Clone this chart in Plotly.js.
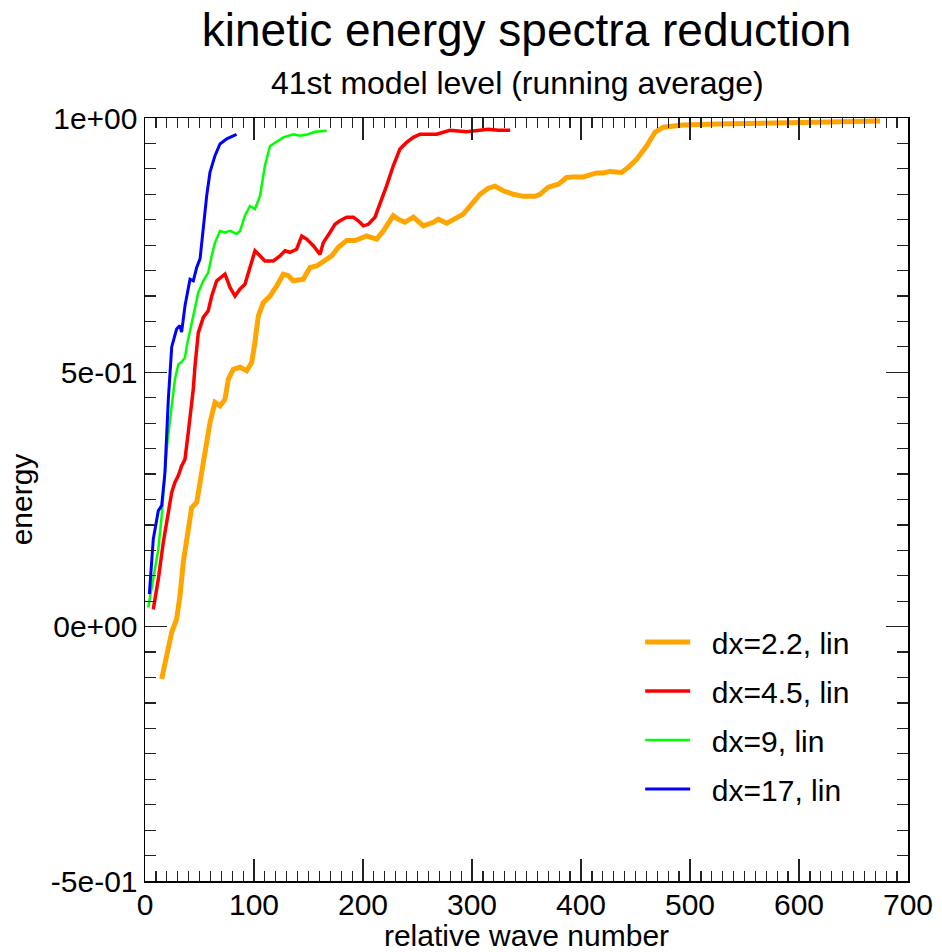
<!DOCTYPE html>
<html>
<head>
<meta charset="utf-8">
<script src="https://cdn.plot.ly/plotly-3.0.1.min.js"></script>
<style>
  html, body { margin: 0; padding: 0; background: #fff; }
  #chart { width: 942px; height: 952px; }
</style>
</head>
<body>
<div id="chart"></div>
<script>
// Kinetic energy spectra reduction, 41st model level, running average
const seriesNames = ["dx=2.2, lin", "dx=4.5, lin", "dx=9, lin", "dx=17, lin"];
const seriesColors = ["#FFA500", "#FF0000", "#00FF00", "#0000FF"];
const seriesWidths = [5, 3.5, 2.5, 3];

const xDx22 = [15.3, 19.9, 24.5, 29, 32.1, 35.1, 39.7, 42.8, 47.4, 50.5, 55, 59.6, 64.2, 68.8, 73.4, 76.5, 81, 87.2, 93.3, 97.9, 100.9, 104, 108.5, 114.7, 120.8, 126.9, 131.5, 136, 145.2, 151.4, 157.5, 163.6, 171.3, 177.4, 185, 192.7, 197.2, 203.4, 208, 212.6, 218.7, 223.2, 227.8, 232.4, 238.5, 246.2, 255.4, 264.5, 269.1, 276.8, 284.4, 292, 298.2, 307.3, 315, 321.1, 328.7, 337.9, 347.1, 357.8, 362.4, 370, 379.2, 386.9, 393, 402.1, 414.4, 420.5, 426.6, 437.3, 443.4, 451.1, 460.2, 467.9, 475.5, 493.9, 524.5, 570.3, 616.2, 674.3];
const yDx22 = [-0.103, -0.057, -0.011, 0.015, 0.061, 0.126, 0.198, 0.234, 0.244, 0.284, 0.336, 0.401, 0.441, 0.434, 0.447, 0.487, 0.506, 0.51, 0.503, 0.519, 0.56, 0.611, 0.637, 0.65, 0.67, 0.693, 0.69, 0.68, 0.683, 0.706, 0.709, 0.719, 0.729, 0.746, 0.759, 0.759, 0.762, 0.768, 0.765, 0.762, 0.778, 0.791, 0.808, 0.801, 0.795, 0.805, 0.788, 0.795, 0.801, 0.793, 0.801, 0.811, 0.827, 0.85, 0.862, 0.866, 0.857, 0.85, 0.846, 0.846, 0.85, 0.864, 0.87, 0.883, 0.884, 0.884, 0.892, 0.892, 0.895, 0.893, 0.903, 0.919, 0.945, 0.972, 0.982, 0.986, 0.988, 0.99, 0.993, 0.994];

const xDx45 = [7.6, 12.2, 16.8, 21.4, 24.5, 27.5, 30.6, 33.6, 36.7, 39.7, 44.3, 45.9, 48.9, 53.5, 58, 61.2, 65.8, 73.4, 78, 82.6, 87.2, 91.7, 96.3, 100.9, 105.5, 110, 117.7, 123.9, 128.4, 133, 139.1, 143.8, 148.3, 154.4, 160.6, 163.6, 169.7, 174.3, 178.9, 185, 191.1, 195.7, 200.3, 204.9, 211, 215.6, 221.7, 227.8, 233.9, 240, 246.2, 252.3, 267.6, 279.8, 295, 315, 324, 335];
const yDx45 = [0.034, 0.093, 0.166, 0.225, 0.264, 0.284, 0.297, 0.316, 0.329, 0.382, 0.467, 0.513, 0.578, 0.608, 0.621, 0.65, 0.68, 0.693, 0.667, 0.65, 0.664, 0.673, 0.709, 0.739, 0.729, 0.719, 0.719, 0.729, 0.739, 0.736, 0.742, 0.768, 0.762, 0.749, 0.732, 0.755, 0.775, 0.791, 0.798, 0.805, 0.805, 0.798, 0.788, 0.791, 0.805, 0.831, 0.867, 0.906, 0.939, 0.952, 0.962, 0.968, 0.968, 0.976, 0.973, 0.978, 0.976, 0.976];

const xDx9 = [3, 7.6, 12.2, 15.3, 19.9, 24.5, 27.5, 30.6, 33.6, 36.7, 38.3, 44.3, 48.9, 53.5, 58, 61.2, 64.2, 68.8, 73.4, 78, 84, 87.2, 91.7, 96.3, 100.9, 105.5, 110, 114.7, 119.3, 126.9, 136, 142.2, 149.8, 156, 166.7];
const yDx9 = [0.038, 0.093, 0.152, 0.218, 0.349, 0.434, 0.487, 0.516, 0.52, 0.529, 0.552, 0.611, 0.657, 0.68, 0.696, 0.729, 0.755, 0.778, 0.775, 0.778, 0.772, 0.778, 0.808, 0.827, 0.821, 0.847, 0.906, 0.945, 0.952, 0.962, 0.968, 0.965, 0.968, 0.973, 0.975];

const xDx17 = [4, 7.6, 12.2, 15.3, 18.3, 21.4, 24.5, 29, 32, 33.6, 36.7, 41.3, 44.3, 47.4, 50.5, 53.5, 56.6, 59.6, 64.2, 68.8, 75, 84];
const yDx17 = [0.064, 0.172, 0.228, 0.238, 0.303, 0.447, 0.55, 0.585, 0.592, 0.579, 0.631, 0.683, 0.68, 0.706, 0.723, 0.788, 0.847, 0.893, 0.926, 0.949, 0.959, 0.968];

const yTickVals = [-0.5, 0, 0.5, 1];
const yTickText = ["-5e-01", "0e+00", "5e-01", "1e+00"];

const xs = [xDx22, xDx45, xDx9, xDx17];
const ys = [yDx22, yDx45, yDx9, yDx17];

const FONT = "Liberation Sans, Arial, Helvetica, sans-serif";

// legend labels sit a little further from their line samples
const legendPad = "\u00a0\u00a0";

const traces = seriesNames.map((name, i) => ({
  type: "scatter",
  mode: "lines",
  name: legendPad + name,
  legendgroup: "g" + i,
  x: xs[i],
  y: ys[i],
  line: { color: seriesColors[i], width: seriesWidths[i] }
}));

const axisCommon = {
  showgrid: false,
  zeroline: false,
  showline: true,
  linecolor: "#000",
  linewidth: 1.5,
  mirror: "ticks",
  ticks: "inside",
  ticklen: 22,
  tickwidth: 1.3,
  tickcolor: "#222",
  tickfont: { family: FONT, size: 30, color: "#000" }
};

const layout = {
  width: 942,
  height: 952,
  paper_bgcolor: "#fff",
  plot_bgcolor: "#fff",
  margin: { l: 145, r: 34, t: 118, b: 71 },
  font: { family: FONT, color: "#000" },
  title: {
    text: "kinetic energy spectra reduction",
    font: { family: FONT, size: 46, color: "#000" },
    x: 0.5, xref: "paper", xanchor: "center",
    y: 1 - 30 / 952, yref: "container", yanchor: "middle"
  },
  annotations: [{
    text: "41st model level (running average)",
    xref: "paper", yref: "paper",
    x: 0.488, y: 1 + (118 - 83) / 763,
    xanchor: "center", yanchor: "middle",
    showarrow: false,
    font: { family: FONT, size: 32, color: "#000" }
  }],
  xaxis: Object.assign({}, axisCommon, {
    range: [0, 700],
    dtick: 100,
    tick0: 0,
    ticklabelstandoff: -4,
    minor: { ticks: "inside", dtick: 10, ticklen: 10, tickwidth: 1.2, tickcolor: "#222" },
    title: { text: "relative wave number", font: { family: FONT, size: 30, color: "#000" }, standoff: 2 }
  }),
  yaxis: Object.assign({}, axisCommon, {
    range: [-0.5, 1],
    tickmode: "array",
    tickvals: yTickVals,
    ticktext: yTickText,
    minor: { ticks: "inside", dtick: 0.05, tick0: 0, ticklen: 11, tickwidth: 1.2, tickcolor: "#222" },
    title: { text: "energy", font: { family: FONT, size: 30, color: "#000" }, standoff: 9 }
  }),
  showlegend: true,
  legend: {
    x: 0.649, xanchor: "left",
    y: 1 - (616 - 118) / 763, yanchor: "top",
    bgcolor: "rgba(0,0,0,0)",
    borderwidth: 0,
    font: { family: FONT, size: 30, color: "#000" },
    tracegroupgap: 7,
    itemwidth: 45
  }
};

Plotly.newPlot("chart", traces, layout, { displayModeBar: false, staticPlot: true });
</script>
</body>
</html>
